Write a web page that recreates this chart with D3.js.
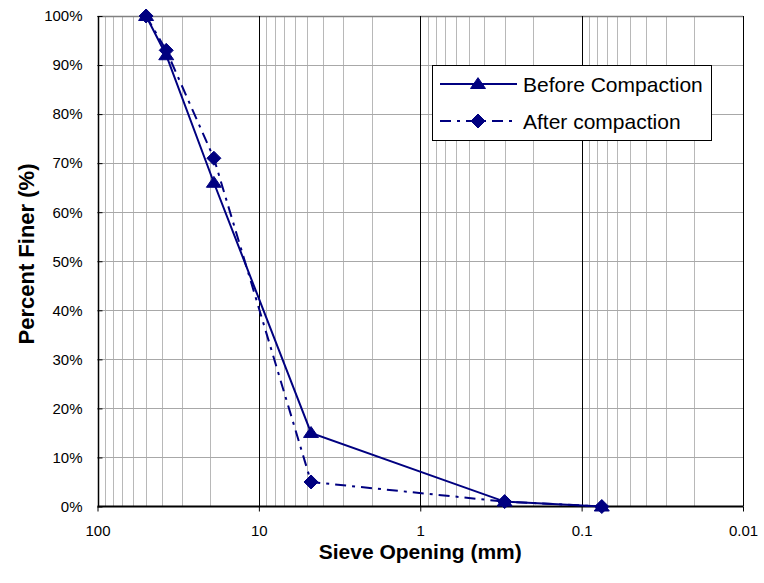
<!DOCTYPE html>
<html>
<head>
<meta charset="utf-8">
<script src="https://cdn.jsdelivr.net/npm/d3@7"></script>
<style>
    body { margin: 0; background: #fff; }
    svg { display: block; font-family: "Liberation Sans", Arial, sans-serif; }
</style>
</head>
<body>
<div id="chart"></div>
<script>
/*globals d3 */
var sieveSizes = [50, 37.5, 19, 4.75, 0.3, 0.075];
var beforeCompaction = [100, 92, 66, 15, 1, 0];
var afterCompaction = [100, 93, 71, 5, 1, 0];
var percentTicks = [0, 10, 20, 30, 40, 50, 60, 70, 80, 90, 100];
var decadeTicks = [100, 10, 1, 0.1, 0.01];
var seriesNames = ["Before Compaction", "After compaction"];

(function () {
    'use strict';
    var svg, x, y, minor, plot, series, legend, navy = "#000080",
        width = 764,
        height = 583,
        left = 97.5,
        right = 743,
        top = 16,
        bottom = 506.5;

    function triangle(s) {
        return "M0," + (-s * 0.85) + "L" + s + "," + (s * 0.6) + "L" + (-s) + "," + (s * 0.6) + "Z";
    }

    function diamond(s) {
        return "M0," + (-s) + "L" + s + ",0L0," + s + "L" + (-s) + ",0Z";
    }

    x = d3.scaleLog().domain([100, 0.01]).range([left, right]);
    y = d3.scaleLinear().domain([0, 100]).range([bottom, top]);

    // minor log gridlines 2..9 in each decade
    minor = [];
    decadeTicks.slice(1).forEach(function (d) {
        var k;
        for (k = 2; k <= 9; k += 1) {
            minor.push(d * k);
        }
    });

    svg = d3.select("#chart").append("svg")
        .attr("width", width)
        .attr("height", height);

    plot = svg.append("g");

    plot.selectAll("line.minor")
        .data(minor)
        .enter()
        .append("line")
        .attr("class", "minor")
        .attr("x1", function (d) { return Math.round(x(d)) + 0.5; })
        .attr("x2", function (d) { return Math.round(x(d)) + 0.5; })
        .attr("y1", top)
        .attr("y2", bottom)
        .attr("stroke", "#b8b8b8")
        .attr("stroke-width", 1);

    plot.selectAll("line.hgrid")
        .data(percentTicks.slice(1))
        .enter()
        .append("line")
        .attr("class", "hgrid")
        .attr("x1", left)
        .attr("x2", right)
        .attr("y1", function (d) { return Math.round(y(d)) + 0.5; })
        .attr("y2", function (d) { return Math.round(y(d)) + 0.5; })
        .attr("stroke", function (d) { return d === 100 ? "#808080" : "#a8a8a8"; })
        .attr("stroke-width", function (d) { return d === 100 ? 1.5 : 1; });

    plot.selectAll("line.major")
        .data(decadeTicks)
        .enter()
        .append("line")
        .attr("class", "major")
        .attr("x1", function (d) { return Math.round(x(d)) + 0.5; })
        .attr("x2", function (d) { return Math.round(x(d)) + 0.5; })
        .attr("y1", top)
        .attr("y2", bottom)
        .attr("stroke", "#000")
        .attr("stroke-width", function (d) { return d === 100 ? 1.5 : 1; });

    // axes
    svg.append("g")
        .attr("transform", "translate(" + left + ",0)")
        .call(d3.axisLeft(y)
            .tickValues(percentTicks)
            .tickSize(-5)
            .tickPadding(15)
            .tickFormat(function (d) { return d + "%"; }))
        .call(function (g) {
            g.select(".domain").remove();
            g.selectAll("text").style("font-size", "15px").attr("fill", "#000");
        });

    svg.append("g")
        .attr("transform", "translate(0," + bottom + ")")
        .call(d3.axisBottom(x)
            .tickValues(decadeTicks)
            .tickSize(5)
            .tickPadding(14)
            .tickFormat(function (d) { return String(d); }))
        .call(function (g) {
            g.select(".domain").attr("stroke-width", 2).attr("d", "M" + left + ",0H" + right);
            g.selectAll("text").style("font-size", "15px").attr("fill", "#000");
        });

    // series
    series = [
        {name: seriesNames[0], values: beforeCompaction, dash: null, marker: triangle, size: 7.5},
        {name: seriesNames[1], values: afterCompaction, dash: "11,6,3,6", marker: diamond, size: 7}
    ];

    series.forEach(function (s) {
        var pts = sieveSizes.map(function (d, i) { return [d, s.values[i]]; });

        svg.append("path")
            .datum(pts)
            .attr("fill", "none")
            .attr("stroke", navy)
            .attr("stroke-width", 2)
            .attr("stroke-dasharray", s.dash)
            .attr("d", d3.line()
                .x(function (d) { return x(d[0]); })
                .y(function (d) { return y(d[1]); }));
    });

    series.forEach(function (s) {
        var pts = sieveSizes.map(function (d, i) { return [d, s.values[i]]; });

        svg.selectAll(null)
            .data(pts)
            .enter()
            .append("path")
            .attr("transform", function (d) {
                return "translate(" + x(d[0]) + "," + y(d[1]) + ")";
            })
            .attr("d", s.marker(s.size))
            .attr("fill", navy)
            .attr("stroke", navy);
    });

    // legend
    legend = svg.append("g");

    legend.append("rect")
        .attr("x", 432.5)
        .attr("y", 65.5)
        .attr("width", 279)
        .attr("height", 75)
        .attr("fill", "#fff")
        .attr("stroke", "#000")
        .attr("stroke-width", 1);

    series.forEach(function (s, i) {
        var ly = 84 + i * 37,
            row = legend.append("g").attr("transform", "translate(0," + ly + ")");

        row.append("line")
            .attr("x1", 440)
            .attr("x2", 517)
            .attr("stroke", navy)
            .attr("stroke-width", 2)
            .attr("stroke-dasharray", s.dash);

        row.append("path")
            .attr("transform", "translate(478,0)")
            .attr("d", s.marker(s.size))
            .attr("fill", navy)
            .attr("stroke", navy);

        row.append("text")
            .attr("x", 523)
            .attr("y", 7.5)
            .style("font-size", "21px")
            .attr("fill", "#000")
            .text(s.name);
    });

    // axis titles
    svg.append("text")
        .attr("x", (left + right) / 2)
        .attr("y", 559)
        .attr("text-anchor", "middle")
        .style("font-size", "21px")
        .style("font-weight", "bold")
        .text("Sieve Opening (mm)");

    svg.append("text")
        .attr("transform", "translate(34,254) rotate(-90)")
        .attr("text-anchor", "middle")
        .style("font-size", "22px")
        .style("font-weight", "bold")
        .text("Percent Finer (%)");
}());
</script>
</body>
</html>
